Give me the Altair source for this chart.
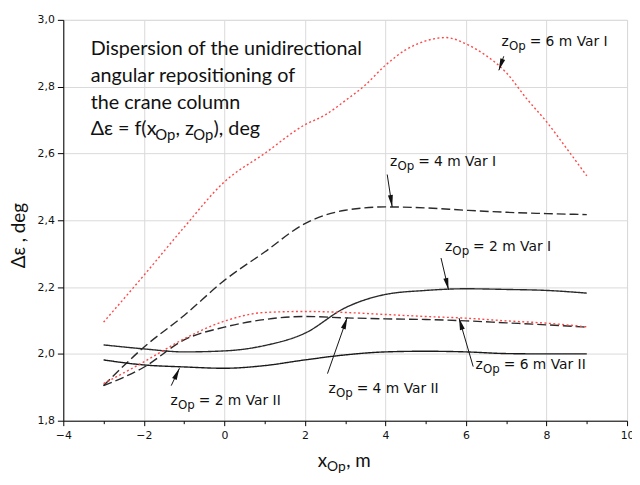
import math
import altair as alt
import pandas as pd

# ---------------- data ----------------
x_int = [-3, -2, -1, 0, 1, 2, 3, 4, 5, 6, 7, 8, 9]

x_z6_var1 = [-3, -2, -1, 0, 1, 2, 2.5, 3, 3.5, 4, 4.5, 5, 5.5, 6, 6.5, 7, 7.5, 8, 8.5, 9]
y_z6_var1 = [2.095, 2.235, 2.379, 2.515, 2.600, 2.686, 2.715, 2.758, 2.805, 2.864, 2.910,
             2.937, 2.947, 2.928, 2.893, 2.842, 2.765, 2.695, 2.615, 2.533]

y_z4_var1 = [1.905, 2.020, 2.115, 2.220, 2.305, 2.390, 2.430, 2.440, 2.437, 2.430, 2.424, 2.420, 2.417]
y_z2_var1 = [2.027, 2.015, 2.006, 2.009, 2.025, 2.062, 2.138, 2.178, 2.190, 2.195, 2.193, 2.190, 2.182]
y_z2_var2 = [1.982, 1.967, 1.961, 1.957, 1.965, 1.982, 1.997, 2.006, 2.008, 2.006, 2.001, 2.000, 2.000]
y_z4_var2 = [1.905, 1.960, 2.042, 2.080, 2.103, 2.112, 2.108, 2.105, 2.103, 2.099, 2.093, 2.087, 2.080]
y_z6_var2 = [1.911, 1.976, 2.045, 2.098, 2.124, 2.127, 2.124, 2.118, 2.112, 2.107, 2.099, 2.092, 2.081]

# annotation labels (start of "z", baseline) and arrows (tail -> tip)
label_z = [6, 4, 2, 2, 4, 6]
label_var = ["I", "I", "I", "II", "II", "II"]
label_x = [6.882, 4.113, 5.478, -1.336, 2.586, 6.238]
label_y = [2.923, 2.562, 2.308, 1.848, 1.882, 1.954]
arrow_x1 = [6.938, 4.044, 5.380, -1.320, 2.561, 6.179]
arrow_y1 = [2.891, 2.537, 2.287, 1.905, 1.941, 1.962]
arrow_x2 = [6.816, 4.167, 5.566, -1.115, 3.051, 5.828]
arrow_y2 = [2.849, 2.440, 2.192, 1.957, 2.109, 2.107]

title_lines = ["Dispersion of the unidirectional", "angular repositioning of", "the crane column"]

# ---------------- layout constants ----------------
W, H = 571, 406
XMIN, XMAX, YMIN, YMAX = -4, 10, 1.8, 3.0
PXX = W / (XMAX - XMIN)
PXY = H / (YMAX - YMIN)

# ---------------- build tables ----------------
rows = []
def add_series(name, xs, ys):
    for a, b in zip(xs, ys):
        rows.append({"x": a, "y": b, "series": name})

add_series("z6 Var I", x_z6_var1, y_z6_var1)
add_series("z4 Var I", x_int, y_z4_var1)
add_series("z2 Var I", x_int, y_z2_var1)
add_series("z2 Var II", x_int, y_z2_var2)
add_series("z4 Var II", x_int, y_z4_var2)
add_series("z6 Var II", x_int, y_z6_var2)
lines_df = pd.DataFrame(rows)

series_domain = ["z6 Var I", "z4 Var I", "z2 Var I", "z2 Var II", "z4 Var II", "z6 Var II"]
series_color = ["#ff4747", "#2a2a2a", "#2a2a2a", "#1a1a1a", "#2a2a2a", "#ff4747"]
series_dash = [[2, 2.5], [9, 4], [1, 0], [1, 0], [9, 4], [2, 2.5]]

arrows = []
for a, b, c, d in zip(arrow_x1, arrow_y1, arrow_x2, arrow_y2):
    dxp = (c - a) * PXX
    dyp = -(d - b) * PXY
    ang = math.degrees(math.atan2(dxp, -dyp)) % 360
    arrows.append({"x": a, "y": b, "x2": c, "y2": d, "angle": ang})
arrows_df = pd.DataFrame(arrows)

texts = []
def piece(x0, y0, dx, dy, text, size, font):
    texts.append({"x": x0 + dx / PXX, "y": y0 - dy / PXY, "text": text, "fs": size, "font": font})

LF = "DejaVu Sans"
for z, v, lx, ly in zip(label_z, label_var, label_x, label_y):
    piece(lx, ly, 0, 0, "z", 14, LF)
    piece(lx, ly, 7.5, 4, "Op", 12, LF)
    piece(lx, ly, 28.5, 0, f"= {z} m Var {v}", 14, LF)

TF = "Lato"
tx0 = -3.321
ty0 = 2.8935
for i, t in enumerate(title_lines):
    piece(tx0, ty0, 0, 27 * i, t, 20, TF)
piece(tx0, ty0, 0, 81, "Δε = f(x", 20, TF)
piece(tx0, ty0, 65.5, 86, "Op", 15, TF)
piece(tx0, ty0, 86, 81, ", z", 20, TF)
piece(tx0, ty0, 104, 86, "Op", 15, TF)
piece(tx0, ty0, 124.5, 81, "), deg", 20, TF)

# x-axis title with subscript
xt0, yt0 = 2.316, 1.661
piece(xt0, yt0, 0, 0, "x", 19, TF)
piece(xt0, yt0, 9.5, 4, "Op", 14, TF)
piece(xt0, yt0, 29, 0, ", m", 19, TF)
text_df = pd.DataFrame(texts)

# ---------------- chart ----------------
xscale = alt.Scale(domain=[XMIN, XMAX], nice=False, zero=False)
yscale = alt.Scale(domain=[YMIN, YMAX], nice=False, zero=False)

xaxis = alt.Axis(
    values=list(range(-4, 11)),
    labelExpr="datum.value % 2 == 0 ? format(datum.value, 'd') : ''",
    title=None,
    grid=True,
    gridColor="#d9d9d9",
    gridOpacity={"condition": {"test": "datum.value % 2 == 0", "value": 1}, "value": 0},
    tickSize={"condition": {"test": "datum.value % 2 == 0", "value": 5}, "value": 3},
    tickColor="#000", domainColor="#000",
    labelFont="DejaVu Sans", labelFontSize=11, labelColor="#111", labelPadding=4,
    labelFlush=False, labelOverlap=False,
)
yaxis = alt.Axis(
    values=[round(1.8 + 0.1 * i, 1) for i in range(13)],
    labelExpr="round(datum.value * 10) % 2 == 0 ? replace(format(datum.value, '.1f'), '.', ',') : ''",
    title="Δε , deg",
    titleFont="Lato", titleFontSize=19, titleFontWeight="normal", titleColor="#111",
    titleX=-45, titleY=218, titleAngle=270, titleAlign="center", titleBaseline="middle",
    grid=True,
    gridColor="#d9d9d9",
    gridOpacity={"condition": {"test": "round(datum.value * 10) % 2 == 0", "value": 1}, "value": 0},
    tickSize={"condition": {"test": "round(datum.value * 10) % 2 == 0", "value": 6}, "value": 3},
    tickColor="#000", domainColor="#000",
    labelFont="DejaVu Sans", labelFontSize=11, labelColor="#111", labelPadding=3,
    labelFlush=False, labelOverlap=False,
)

base_lines = alt.Chart(lines_df).mark_line(strokeWidth=1.4, interpolate="monotone").encode(
    x=alt.X("x:Q", scale=xscale, axis=xaxis),
    y=alt.Y("y:Q", scale=yscale, axis=yaxis),
    color=alt.Color("series:N", scale=alt.Scale(domain=series_domain, range=series_color), legend=None),
    strokeDash=alt.StrokeDash("series:N", scale=alt.Scale(domain=series_domain, range=series_dash), legend=None),
    detail="series:N",
    order="x:Q",
)

arrow_lines = alt.Chart(arrows_df).mark_rule(color="#111", strokeWidth=1).encode(
    x="x:Q", y="y:Q", x2="x2:Q", y2="y2:Q"
)
arrow_heads = alt.Chart(arrows_df).mark_point(
    shape="M0,0L0.42,2L-0.42,2Z", filled=True, color="#111", opacity=1, size=144
).encode(
    x="x2:Q", y="y2:Q", angle=alt.Angle("angle:Q", scale=None)
)

def text_layer(font):
    return alt.Chart(text_df[text_df["font"] == font]).mark_text(
        align="left", baseline="alphabetic", color="#111", font=font
    ).encode(
        x="x:Q", y="y:Q", text="text:N",
        size=alt.Size("fs:Q", scale=None),
    )

chart = alt.layer(base_lines, arrow_lines, arrow_heads, text_layer(LF), text_layer(TF)).properties(
    width=W, height=H,
    autosize=alt.AutoSizeParams(type="none"),
    padding={"left": 56, "top": 9, "right": 5, "bottom": 54},
).configure_view(stroke="#000", strokeWidth=1).configure(background="white")

chart.save("out.html", embed_options={"renderer": "svg", "actions": False})
